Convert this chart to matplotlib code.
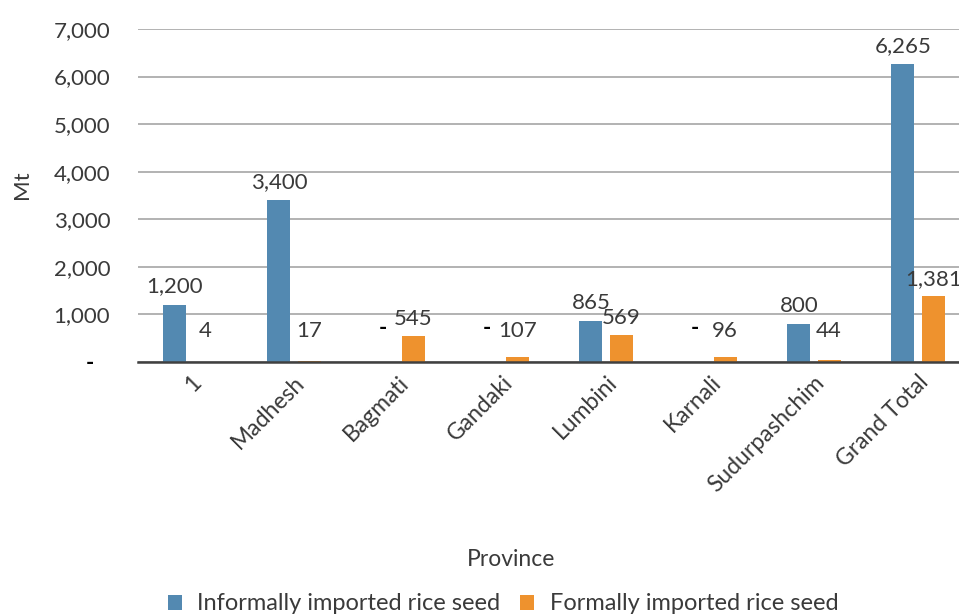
import matplotlib
matplotlib.use("Agg")
import matplotlib.pyplot as plt
import numpy as np
from matplotlib.ticker import FuncFormatter
from matplotlib.patches import Patch

provinces = ["1", "Madhesh", "Bagmati", "Gandaki", "Lumbini", "Karnali",
             "Sudurpashchim", "Grand Total"]
informal = [1200, 3400, 0, 0, 865, 0, 800, 6265]
formal = [4, 17, 545, 107, 569, 96, 44, 1381]
series_names = ["Informally imported rice seed", "Formally imported rice seed"]
y_ticks = [0, 1000, 2000, 3000, 4000, 5000, 6000, 7000]

BLUE = "#5389B1"
ORANGE = "#EE922E"
TXT = "#3a3a3a"

plt.rcParams["font.family"] = ["Lato", "DejaVu Sans"]
plt.rcParams["font.size"] = 16

fig = plt.figure(figsize=(9.59, 6.15), dpi=100)
ax = fig.add_axes([138 / 959, 1 - 362 / 615, 832 / 959, 333 / 615])

x = np.arange(len(provinces))
off = 0.145
w = 0.22
ax.bar(x - off, informal, width=w, color=BLUE, zorder=3)
ax.bar(x + off, formal, width=w, color=ORANGE, zorder=3)

def fmt(v):
    return "-" if v == 0 else f"{v:,}"

for xi, v in zip(x, informal):
    y = max(v, 300)
    ax.annotate(fmt(v), (xi - off, y), xytext=(0, 6), textcoords="offset points",
                ha="center", va="bottom", color=TXT if v else "black",
                fontweight="normal" if v else "bold", fontsize=16, zorder=4)
for xi, v in zip(x, formal):
    y = max(v, 300)
    ax.annotate(fmt(v), (xi + off, y), xytext=(0, 5), textcoords="offset points",
                ha="center", va="bottom", color=TXT, fontsize=16, zorder=4,
                annotation_clip=False)

ax.set_xlim(-0.5, len(provinces) - 0.5)
ax.set_ylim(0, 7000)
ax.set_yticks(y_ticks)
ax.yaxis.set_major_formatter(FuncFormatter(lambda v, p: "-   " if v == 0 else f"{int(v):,}"))
ax.yaxis.grid(True, color="#a6a6a6", linewidth=1.2, zorder=0)
ax.set_axisbelow(True)
ax.tick_params(axis="y", length=0, pad=20, labelsize=16, labelcolor=TXT)
ax.tick_params(axis="x", length=0, pad=7, labelsize=16.5, labelcolor=TXT)
fig.canvas.draw()
for lab in ax.get_yticklabels():
    if lab.get_text().startswith("-"):
        lab.set_color("black")
        lab.set_fontweight("bold")

ax.set_xticks(x)
ax.set_xticklabels(provinces, rotation=45, ha="right", rotation_mode="anchor")

for s in ["top", "right", "left"]:
    ax.spines[s].set_visible(False)
ax.spines["bottom"].set_color("#404040")
ax.spines["bottom"].set_linewidth(1.8)
ax.spines["bottom"].set_zorder(5)

fig.text(22 / 959, 1 - 185 / 615, "Mt", rotation=90, ha="center", va="center",
         fontsize=16, color=TXT)
fig.text(511 / 959, 1 - 560 / 615, "Province", ha="center", va="center",
         fontsize=16.5, color=TXT)

handles = [Patch(facecolor=BLUE), Patch(facecolor=ORANGE)]
leg = fig.legend(handles, series_names, loc="center", bbox_to_anchor=(503 / 959, 1 - 604 / 615),
                 ncol=2, frameon=False, handlelength=0.6, handleheight=0.6,
                 handletextpad=0.65, columnspacing=0.85, fontsize=17, borderaxespad=0)
for t in leg.get_texts():
    t.set_color(TXT)

fig.savefig("out.png", dpi=100)
